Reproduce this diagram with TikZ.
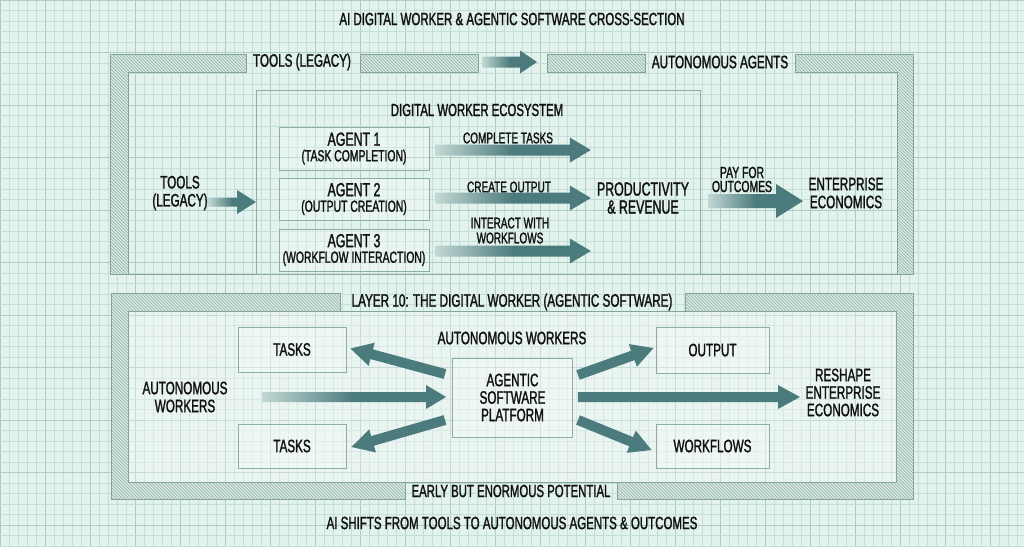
\documentclass[tikz,border=0pt]{standalone}
\usepackage{fontspec}
\setmainfont{Liberation Sans}[FakeStretch=0.65, FakeBold=1.4]
\usetikzlibrary{calc}
\definecolor{bg}{HTML}{E2F2EC}
\definecolor{gridminor}{HTML}{C6DED7}
\definecolor{gridmajor}{HTML}{AFCBC3}
\definecolor{bandfill}{HTML}{DAEAE5}
\definecolor{hatch}{HTML}{8AAAA4}
\definecolor{bandline}{HTML}{82A49D}
\definecolor{boxline}{HTML}{8DAEA7}
\definecolor{teal}{HTML}{4C7B7D}
\definecolor{fadeL}{HTML}{C2D8D4}
\definecolor{txt}{HTML}{111111}
\pgfdeclarehorizontalshading{arrowfade}{100bp}{color(0bp)=(fadeL); color(25bp)=(fadeL); color(50bp)=(teal); color(100bp)=(teal)}
% #1 style, #2 start, #3 end, #4 shaft half, #5 head half, #6 head length
\newcommand\fatarrow[6][]{%
  \coordinate (fa-b) at ($(#3)!#6!(#2)$);
  \path[#1] ($(#2)!#4!90:(#3)$) -- ($(fa-b)!#4!90:(#3)$) -- ($(fa-b)!#5!90:(#3)$) -- (#3)
     -- ($(fa-b)!#5!-90:(#3)$) -- ($(fa-b)!#4!-90:(#3)$) -- ($(#2)!#4!-90:(#3)$) -- cycle;}
% hatched band: #1 path, #2 x-range start, #3 x-range end, #4 y top
\newcommand\hatchband[4]{%
  \fill[bandfill] #1;
  \begin{scope}
    \clip #1;
    \foreach \k in {#2,...,#3} {\draw[hatch, line width=0.55pt] (\k*3.2,#4) -- ++(240,240);}
  \end{scope}
  \draw[bandline, line width=0.8pt] #1;}
\tikzset{
  lbl/.style={text=txt, inner sep=0pt, align=center, font=\fontsize{18}{18}\selectfont},
  small/.style={text=txt, inner sep=0pt, align=center, font=\fontsize{15.4}{15}\selectfont},
  boxn/.style={draw=boxline, line width=0.9pt, fill=white, fill opacity=0.25, text opacity=1, text=txt, inner sep=0pt, align=center},
  fade/.style={shade, shading=arrowfade},
  solid/.style={fill=teal},
}
\begin{document}
\begin{tikzpicture}[x=1pt,y=-1pt]
\useasboundingbox (0,0) rectangle (1024,547);
\fill[bg] (0,0) rectangle (1024,547);
% graph paper
\foreach \i in {0,...,114} {\draw[gridminor, line width=0.6pt] (\i*9,0) -- (\i*9,547);}
\foreach \i in {0,...,23} {\draw[gridmajor, line width=0.9pt] (\i*45,0) -- (\i*45,547);}
\foreach \j in {0,...,52} {\draw[gridminor, line width=0.6pt] (0,\j*10.5) -- (1024,\j*10.5);}
\foreach \j in {0,...,10} {\draw[gridmajor, line width=0.9pt] (0,\j*52.5) -- (1024,\j*52.5);}

% ---------- upper frame ----------
\hatchband{(246,54) -- (110,54) -- (110,274) -- (128,274) -- (128,72) -- (246,72) -- cycle}{-40}{80}{54}
\hatchband{(360,54) -- (478,54) -- (478,72) -- (360,72) -- cycle}{105}{152}{54}
\hatchband{(547,54) -- (645,54) -- (645,72) -- (547,72) -- cycle}{163}{204}{54}
\hatchband{(795,54) -- (913,54) -- (913,274) -- (897,274) -- (897,72) -- (795,72) -- cycle}{200}{287}{54}
\draw[bandline, line width=0.9pt] (128,274) -- (897,274);
\draw[boxline, line width=0.9pt] (256,90) rectangle (700,274);

% ---------- lower frame ----------
\fill[white, opacity=0.3] (128,311) rectangle (896,482);
\hatchband{(340,293) -- (111,293) -- (111,499) -- (405,499) -- (405,482) -- (128,482) -- (128,311) -- (340,311) -- cycle}{-40}{130}{293}
\hatchband{(685,293) -- (913,293) -- (913,499) -- (617,499) -- (617,482) -- (896,482) -- (896,311) -- (685,311) -- cycle}{110}{287}{293}
\draw[bandline, line width=0.7pt] (340,311) -- (685,311) (405,482) -- (617,482);

% ---------- texts ----------
\node[lbl, font=\fontsize{17.7}{18}\selectfont] (title) at (512,19) {AI DIGITAL WORKER \& AGENTIC SOFTWARE CROSS-SECTION};
\node[lbl] (tband) at (302,62) {TOOLS (LEGACY)};
\node[lbl] (aband) at (720,62) {AUTONOMOUS AGENTS};
\node[lbl, font=\fontsize{17.5}{18}\selectfont] (ecot) at (477,110) {DIGITAL WORKER ECOSYSTEM};
\node[lbl] (tools) at (180,193) {TOOLS\\(LEGACY)};

\node[boxn, minimum width=150pt, minimum height=43pt, font=\fontsize{16}{15.5}\selectfont] (ag1) at (354,148.5) {{\fontsize{19}{18}\selectfont AGENT 1}\\(TASK COMPLETION)};
\node[boxn, minimum width=150pt, minimum height=42pt, font=\fontsize{16}{15.5}\selectfont] (ag2) at (354,199) {{\fontsize{19}{18}\selectfont AGENT 2}\\(OUTPUT CREATION)};
\node[boxn, minimum width=150pt, minimum height=42pt, font=\fontsize{16}{15.5}\selectfont] (ag3) at (354,250) {{\fontsize{19}{18}\selectfont AGENT 3}\\(WORKFLOW INTERACTION)};

\node[small] (l1) at (508,138) {COMPLETE TASKS};
\node[small] (l2) at (509,187) {CREATE OUTPUT};
\node[small] (l3) at (510,230.5) {INTERACT WITH\\WORKFLOWS};
\node[lbl, font=\fontsize{19}{18}\selectfont] (prod) at (643,198) {PRODUCTIVITY\\\& REVENUE};
\node[small, font=\fontsize{16}{14}\selectfont] (pay) at (742,179.5) {PAY FOR\\OUTCOMES};
\node[lbl] (ent) at (846,193) {ENTERPRISE\\ECONOMICS};

\node[lbl] (layer) at (512,302) {LAYER 10: THE DIGITAL WORKER (AGENTIC SOFTWARE)};
\node[lbl] (aw) at (512,338) {AUTONOMOUS WORKERS};
\node[boxn, minimum width=108pt, minimum height=45pt, font=\fontsize{18}{18}\selectfont] (tasks1) at (292,349.5) {TASKS};
\node[boxn, minimum width=113pt, minimum height=46pt, font=\fontsize{18}{18}\selectfont] (output) at (712.5,350) {OUTPUT};
\node[boxn, minimum width=108pt, minimum height=44pt, font=\fontsize{18}{18}\selectfont] (tasks2) at (292,446) {TASKS};
\node[boxn, minimum width=113pt, minimum height=44pt, font=\fontsize{18}{18}\selectfont] (wf) at (712.5,446) {WORKFLOWS};
\node[boxn, minimum width=120pt, minimum height=79pt, font=\fontsize{18}{17.5}\selectfont] (plat) at (512.5,397.5) {AGENTIC\\SOFTWARE\\PLATFORM};
\node[lbl] (awl) at (185,397) {AUTONOMOUS\\WORKERS};
\node[lbl, font=\fontsize{18}{17.5}\selectfont] (resh) at (843,392.5) {RESHAPE\\ENTERPRISE\\ECONOMICS};
\node[lbl, font=\fontsize{17.5}{18}\selectfont] (early) at (511,491) {EARLY BUT ENORMOUS POTENTIAL};
\node[lbl, font=\fontsize{17.7}{18}\selectfont] (sub) at (512,523) {AI SHIFTS FROM TOOLS TO AUTONOMOUS AGENTS \& OUTCOMES};

% ---------- arrows ----------
\coordinate (ba-s) at ($(tband.east)+(131,0)$);
\coordinate (ba-e) at (537,62);
\fatarrow[fade]{ba-s}{ba-e}{5.5pt}{11.5pt}{17pt}

\coordinate (ta-s) at (208,202);
\coordinate (ta-e) at (256,202);
\fatarrow[fade]{ta-s}{ta-e}{4.5pt}{12pt}{19pt}

\coordinate (a1-s) at ($(ag1.east |- 0,150)+(6,0)$);
\coordinate (a1-e) at ($(prod.west |- 0,150)+(-6,0)$);
\fatarrow[fade]{a1-s}{a1-e}{5.5pt}{12.5pt}{21pt}
\coordinate (a2-s) at ($(ag2.east |- 0,198)+(6,0)$);
\coordinate (a2-e) at ($(prod.west |- 0,198)+(-6,0)$);
\fatarrow[fade]{a2-s}{a2-e}{5.5pt}{12.5pt}{21pt}
\coordinate (a3-s) at ($(ag3.east |- 0,251)+(6,0)$);
\coordinate (a3-e) at ($(prod.west |- 0,251)+(-6,0)$);
\fatarrow[fade]{a3-s}{a3-e}{5.5pt}{12.5pt}{21pt}

\coordinate (pa-s) at (708,201);
\coordinate (pa-e) at (803,201);
\fatarrow[fade]{pa-s}{pa-e}{7pt}{17pt}{27pt}

\coordinate (la-s) at (262,397);
\coordinate (la-e) at ($(plat.west |- 0,397)+(-6,0)$);
\fatarrow[fade]{la-s}{la-e}{5pt}{12pt}{20pt}
\coordinate (ra-s) at ($(plat.east |- 0,397)+(5,0)$);
\coordinate (ra-e) at (800,397);
\fatarrow[solid]{ra-s}{ra-e}{5pt}{12pt}{22pt}

\coordinate (d1-s) at (445,374);
\coordinate (d1-e) at ($(tasks1.east)+(4,-1)$);
\fatarrow[solid]{d1-s}{d1-e}{5pt}{12pt}{22pt}
\coordinate (d2-s) at (578,375);
\coordinate (d2-e) at ($(output.west)+(-2,-2)$);
\fatarrow[solid]{d2-s}{d2-e}{5pt}{12pt}{22pt}
\coordinate (d3-s) at (445,420);
\coordinate (d3-e) at ($(tasks2.east)+(5,1)$);
\fatarrow[solid]{d3-s}{d3-e}{5pt}{12pt}{22pt}
\coordinate (d4-s) at (578,420);
\coordinate (d4-e) at ($(wf.west)+(-4,4)$);
\fatarrow[solid]{d4-s}{d4-e}{5pt}{12pt}{22pt}
\end{tikzpicture}
\end{document}
